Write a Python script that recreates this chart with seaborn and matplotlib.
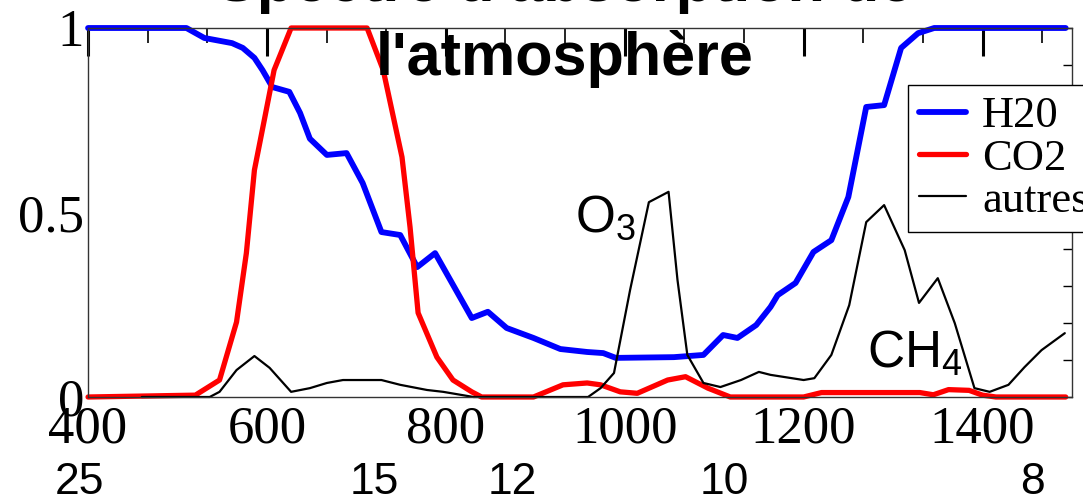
import seaborn as sns
import matplotlib.pyplot as plt
from matplotlib.ticker import MultipleLocator, FuncFormatter

# spectre : nombre d'onde (cm-1) -> absorption
h2o_x = [400, 510, 530, 561, 573, 586, 595, 606, 625, 637, 648, 667, 689, 707,
         728, 749, 768, 788, 829, 847, 868, 898, 928, 958, 976, 990, 1055, 1088,
         1110, 1126, 1147, 1163, 1171, 1191, 1211, 1231, 1250, 1270, 1290, 1309,
         1328, 1346, 1493]
h2o_y = [1.0, 1.0, 0.973, 0.959, 0.946, 0.919, 0.886, 0.84, 0.827, 0.77, 0.70,
         0.656, 0.661, 0.58, 0.447, 0.439, 0.352, 0.39, 0.214, 0.231, 0.187,
         0.16, 0.13, 0.122, 0.119, 0.106, 0.108, 0.114, 0.168, 0.16, 0.195,
         0.244, 0.276, 0.309, 0.393, 0.425, 0.542, 0.786, 0.791, 0.946, 0.986,
         1.0, 1.0]

co2_x = [400, 520, 547, 566, 577, 586, 597, 608, 627, 712, 730, 751, 760, 769,
         790, 808, 829, 840, 898, 931, 958, 973, 995, 1014, 1048, 1068, 1093,
         1118, 1200, 1220, 1330, 1345, 1362, 1385, 1400, 1415, 1493]
co2_y = [0.0, 0.005, 0.046, 0.203, 0.39, 0.615, 0.75, 0.886, 1.0, 1.0, 0.886,
         0.65, 0.46, 0.228, 0.108, 0.046, 0.014, 0.0, 0.0, 0.033, 0.038, 0.033,
         0.014, 0.01, 0.046, 0.055, 0.024, 0.0, 0.0, 0.012, 0.012, 0.006, 0.02,
         0.018, 0.005, 0.0, 0.0]

autres_x = [460, 536, 547, 566, 586, 603, 627, 648, 667, 685, 728, 749, 779,
            797, 831, 959, 973, 988, 1006, 1027, 1049, 1059, 1070, 1088, 1107,
            1130, 1150, 1163, 1200, 1212, 1231, 1251, 1270, 1290, 1313, 1329,
            1350, 1369, 1391, 1408, 1429, 1447, 1466, 1492]
autres_y = [0.0, 0.0, 0.014, 0.073, 0.111, 0.079, 0.014, 0.024, 0.038, 0.046,
            0.046, 0.033, 0.019, 0.014, 0.0, 0.0, 0.024, 0.065, 0.29, 0.528,
            0.556, 0.317, 0.114, 0.038, 0.027, 0.046, 0.068, 0.06, 0.046, 0.051,
            0.114, 0.249, 0.474, 0.52, 0.398, 0.255, 0.322, 0.2, 0.024, 0.014,
            0.033, 0.081, 0.127, 0.173]

# longueurs d'onde (µm) écrites sous l'axe
wl_pos = [391, 720, 874, 1111, 1456]
wl_labels = ['25', '15', '12', '10', '8']

sns.set_style('white')
plt.rcParams['font.family'] = ['Liberation Serif', 'DejaVu Serif']
plt.rcParams['text.color'] = 'black'
plt.rcParams['mathtext.fontset'] = 'custom'
plt.rcParams['mathtext.rm'] = 'Liberation Sans'
plt.rcParams['mathtext.default'] = 'rm'

fig = plt.figure(figsize=(10.83, 5.0), dpi=100)
ax = fig.add_axes([0.0813, 0.206, 0.9085, 0.738])

sns.lineplot(x=h2o_x, y=h2o_y, ax=ax, color='#0000ff', linewidth=4.2,
             label='H20', clip_on=False)
sns.lineplot(x=co2_x, y=co2_y, ax=ax, color='#ff0000', linewidth=3.8,
             label='CO2', clip_on=False)
sns.lineplot(x=autres_x, y=autres_y, ax=ax, color='black', linewidth=1.6,
             label='autres', clip_on=False)

ax.set_xlim(400, 1500)
ax.set_ylim(0, 1)
ax.xaxis.set_major_locator(MultipleLocator(200))
ax.xaxis.set_minor_locator(MultipleLocator(200 / 3))
ax.yaxis.set_major_locator(MultipleLocator(0.5))
ax.yaxis.set_minor_locator(MultipleLocator(0.1))
ax.yaxis.set_major_formatter(FuncFormatter(lambda v, p: '%g' % v))

ax.tick_params(axis='both', which='both', direction='in', top=True, right=True,
               colors='black', labelcolor='black', labelsize=38)
ax.tick_params(axis='x', which='major', length=20, width=2.2, pad=6)
ax.tick_params(axis='x', which='minor', length=11, width=1.2)
ax.tick_params(axis='y', which='major', length=14, width=1.0, pad=3)
ax.tick_params(axis='y', which='minor', length=6.5, width=1.0)
for s in ax.spines.values():
    s.set_color('#333333')
    s.set_linewidth(1.0)
ax.set_xlabel('')
ax.set_ylabel('')

# annotations
ax.text(944, 0.447, r'O$_3$', family='Liberation Sans', fontsize=37,
        color='black', ha='left', va='baseline')
ax.text(1271, 0.081, r'CH$_4$', family='Liberation Sans', fontsize=37,
        color='black', ha='left', va='baseline')

for pos, lab in zip(wl_pos, wl_labels):
    ax.text(pos, -0.262, lab, transform=ax.get_xaxis_transform(),
            family='Liberation Sans', fontsize=32, color='black',
            ha='center', va='baseline')

# titre (coupé en haut comme sur l'original)
fig.text(0.5217, 0.998, "Spectre d'absorption de", family='Liberation Sans',
         weight='bold', fontsize=44, color='black', ha='center', va='baseline')
fig.text(0.5217, 0.85, "l'atmosphère", family='Liberation Sans',
         weight='bold', fontsize=44, color='black', ha='center', va='baseline')

leg = ax.legend(loc='upper left', bbox_to_anchor=(0.8384, 0.83),
                bbox_transform=fig.transFigure, fontsize=32, frameon=True,
                fancybox=False, framealpha=1, edgecolor='black',
                borderaxespad=0, borderpad=0.25, labelspacing=0.05,
                handlelength=1.05, handletextpad=0.37)
leg.get_frame().set_linewidth(1.0)
for t in leg.get_texts():
    t.set_color('black')

fig.savefig('out.png', dpi=100)
